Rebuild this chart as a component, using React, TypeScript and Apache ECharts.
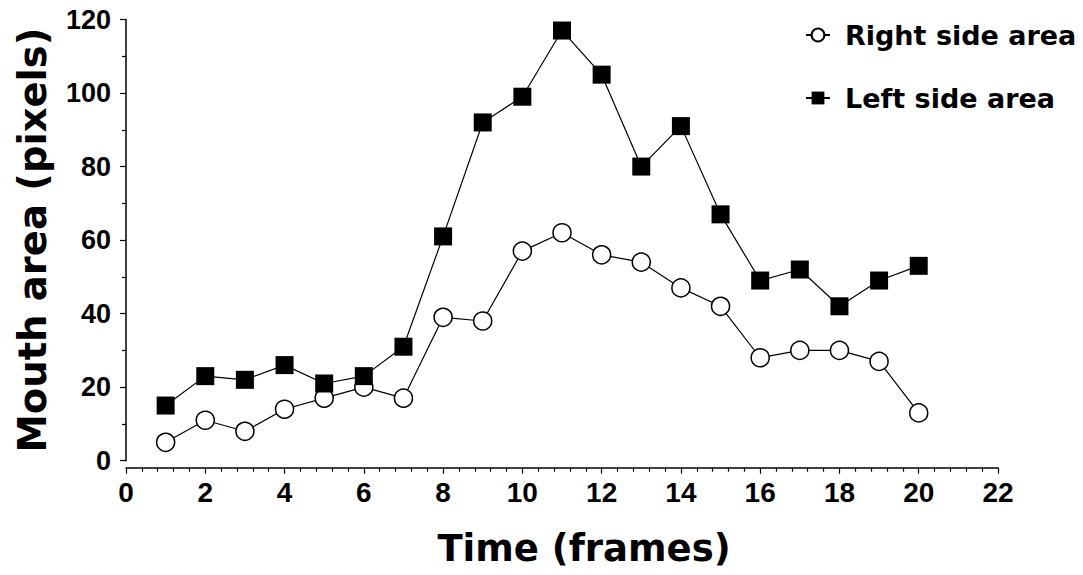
import React, { useEffect, useRef } from "react";
import * as echarts from "echarts";

const frames = [1, 2, 3, 4, 5, 6, 7, 8, 9, 10, 11, 12, 13, 14, 15, 16, 17, 18, 19, 20];
const rightSide = [5, 11, 8, 14, 17, 20, 17, 39, 38, 57, 62, 56, 54, 47, 42, 28, 30, 30, 27, 13];
const leftSide = [15, 23, 22, 26, 21, 23, 31, 61, 92, 99, 117, 105, 80, 91, 67, 49, 52, 42, 49, 53];
const seriesNames = ["Right side area", "Left side area"];
const xTitle = "Time (frames)";
const yTitle = "Mouth area (pixels)";

export default function App() {
  const ref = useRef<HTMLDivElement>(null);
  useEffect(() => {
    if (!ref.current) return;
    const chart = echarts.init(ref.current, undefined, { renderer: "svg" });
    const labelFont = { fontFamily: "Liberation Sans", fontWeight: "bold" as const, fontSize: 27, color: "#000" };
    chart.setOption({
      animation: false,
      backgroundColor: "#fff",
      grid: { left: 126, right: 85, top: 19.5, bottom: 114.3, containLabel: false },
      legend: {
        orient: "vertical",
        left: 800,
        top: 15,
        itemWidth: 24,
        itemHeight: 16,
        itemGap: 33,
        textStyle: {
          fontFamily: "DejaVu Sans",
          fontWeight: "bold",
          fontSize: 27,
          color: "#000",
          lineHeight: 30,
          padding: [0, 0, 0, 10],
        },
        data: seriesNames,
      },
      xAxis: {
        type: "value",
        min: 0,
        max: 22,
        interval: 2,
        offset: 7,
        name: xTitle,
        nameLocation: "middle",
        nameGap: 62,
        nameTextStyle: {
          fontFamily: "DejaVu Sans",
          fontWeight: "bold",
          fontSize: 37,
          color: "#000",
          padding: [0, 0, 0, 44],
        },
        axisLine: { show: true, onZero: false, lineStyle: { color: "#000", width: 1.5 } },
        axisTick: { show: true, length: 6, lineStyle: { color: "#000", width: 1.2 } },
        minorTick: { show: true, splitNumber: 5, length: 4, lineStyle: { color: "#000", width: 1.2 } },
        axisLabel: { ...labelFont, fontSize: 28, margin: 11 },
        splitLine: { show: false },
      },
      yAxis: {
        type: "value",
        min: 0,
        max: 120,
        interval: 20,
        name: yTitle,
        nameLocation: "middle",
        nameGap: 74,
        nameRotate: 90,
        nameTextStyle: { fontFamily: "DejaVu Sans", fontWeight: "bold", fontSize: 38.5, color: "#000" },
        axisLine: { show: true, lineStyle: { color: "#000", width: 1.5 } },
        axisTick: { show: true, length: 6, lineStyle: { color: "#000", width: 1.2 } },
        minorTick: { show: true, splitNumber: 2, length: 4, lineStyle: { color: "#000", width: 1.2 } },
        axisLabel: { ...labelFont, margin: 15 },
        splitLine: { show: false },
      },
      series: [
        {
          name: seriesNames[0],
          type: "line",
          data: frames.map((f, i) => [f, rightSide[i]]),
          symbol: "circle",
          symbolSize: 18,
          lineStyle: { color: "#000", width: 1.2 },
          itemStyle: { color: "#fff", borderColor: "#000", borderWidth: 1.5 },
          z: 2,
        },
        {
          name: seriesNames[1],
          type: "line",
          data: frames.map((f, i) => [f, leftSide[i]]),
          symbol: "rect",
          symbolSize: 18,
          lineStyle: { color: "#000", width: 1.2 },
          itemStyle: { color: "#000", borderColor: "#000", borderWidth: 0 },
          z: 3,
        },
      ],
    });
    return () => chart.dispose();
  }, []);
  return <div ref={ref} style={{ position: "fixed", left: 0, top: 0, width: 1083, height: 575 }} />;
}
